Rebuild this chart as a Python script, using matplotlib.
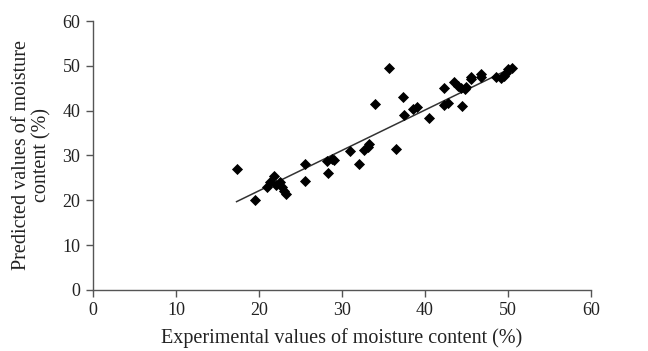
import matplotlib
matplotlib.use("Agg")
import matplotlib.pyplot as plt

exp_vals = [17.3, 19.5, 21.0, 21.3, 21.8, 22.0, 22.5, 22.8, 23.0, 23.3,
            25.5, 25.5, 28.2, 28.3, 28.8, 29.0, 31.0, 32.0, 32.7, 33.1, 33.3,
            34.0, 35.7, 36.5, 37.3, 37.5, 38.5, 39.0, 40.5,
            42.3, 42.3, 42.8, 43.5, 44.0, 44.3, 44.5, 44.8, 45.0, 45.5, 45.6,
            46.8, 46.8, 48.5, 49.2, 49.5, 49.8, 50.0, 50.5]
pred_vals = [27.0, 20.0, 23.0, 24.0, 25.5, 23.5, 24.0, 23.0, 22.0, 21.5,
             28.0, 24.3, 28.7, 26.2, 29.2, 29.0, 31.0, 28.2, 31.3, 32.0, 32.5,
             41.5, 49.5, 31.5, 43.0, 39.0, 40.3, 40.8, 38.3,
             45.0, 41.3, 41.7, 46.5, 45.5, 45.0, 41.0, 44.8, 45.2, 47.0, 47.5,
             47.5, 48.2, 47.5, 47.3, 47.8, 48.5, 49.3, 49.5]
trend_x = [17.3, 50.5]
trend_y = [19.7, 49.6]

x_ticks = [0, 10, 20, 30, 40, 50, 60]
y_ticks = [0, 10, 20, 30, 40, 50, 60]

plt.rcParams['font.family'] = ['Liberation Serif', 'DejaVu Serif']

fig = plt.figure(figsize=(6.48, 3.51), dpi=100)
ax = fig.add_axes([0.1435, 0.174, 0.7685, 0.766])

ax.plot(trend_x, trend_y, color='#333333', linewidth=1.1, zorder=2)
ax.scatter(exp_vals, pred_vals, marker='D', s=32, color='black', zorder=3, linewidths=0)

ax.set_xlim(0, 60)
ax.set_ylim(0, 60)
ax.set_xticks(x_ticks)
ax.set_yticks(y_ticks)
for s in ['top', 'right']:
    ax.spines[s].set_visible(False)
for s in ['left', 'bottom']:
    ax.spines[s].set_color('#555555')
    ax.spines[s].set_linewidth(1.0)
ax.tick_params(direction='out', length=5, width=1.0, color='#555555',
               labelsize=13, labelcolor='#222222', pad=4)

ax.set_xlabel('Experimental values of moisture content (%)', fontsize=14.5, color='#222222', labelpad=6)
ax.set_ylabel('Predicted values of moisture\ncontent (%)', fontsize=14.5, color='#222222', labelpad=8,
              linespacing=1.1)

fig.savefig('out.png', dpi=100)
